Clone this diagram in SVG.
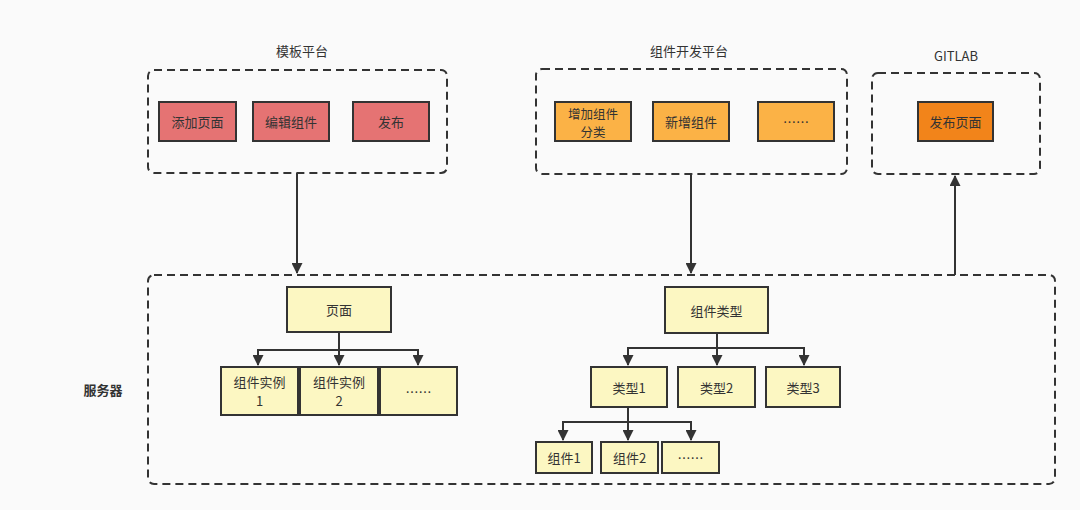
<svg xmlns="http://www.w3.org/2000/svg" width="1080" height="510" viewBox="0 0 1080 510">
<style>
text{font-family:"Noto Sans CJK SC","Liberation Sans",sans-serif;font-size:13px;fill:#333;text-anchor:middle;dominant-baseline:central}
.ctr{fill:none;stroke:#333;stroke-width:2;stroke-dasharray:8 5}
.red{fill:#e57373;stroke:#333;stroke-width:2}
.org{fill:#fbb246;stroke:#333;stroke-width:2}
.dorg{fill:#f2841a;stroke:#333;stroke-width:2}
.yel{fill:#fcf7c2;stroke:#333;stroke-width:2}
.ln{fill:none;stroke:#333;stroke-width:2}
</style>
<defs>
<marker id="ah" viewBox="0 0 10 10" refX="9" refY="5" markerWidth="6" markerHeight="5.5" orient="auto" markerUnits="strokeWidth">
<path d="M0,0 L10,5 L0,10 z" fill="#333"/>
</marker>
</defs>
<rect width="1080" height="510" fill="#fafafa"/>
<g id="tpl-platform">
<text x="302" y="50">模板平台</text>
<rect class="ctr" x="148" y="70" width="299" height="103" rx="6"/>
</g>
<g id="n-add-page"><rect class="red" x="159" y="102" width="77" height="39"/><text x="197.5" y="121.5">添加页面</text></g>
<g id="n-edit-comp"><rect class="red" x="253" y="102" width="76" height="39"/><text x="291" y="121.5">编辑组件</text></g>
<g id="n-publish"><rect class="red" x="353" y="102" width="76" height="39"/><text x="391" y="121.5">发布</text></g>
<g id="comp-platform">
<text x="689" y="50">组件开发平台</text>
<rect class="ctr" x="536" y="69" width="311" height="105" rx="6"/>
</g>
<g id="n-add-cat"><rect class="org" x="555" y="102" width="76" height="39"/><text x="593" y="113" style="font-size:12.5px">增加组件</text><text x="593" y="131" style="font-size:12.5px">分类</text></g>
<g id="n-new-comp"><rect class="org" x="653" y="102" width="76" height="39"/><text x="691" y="121.5">新增组件</text></g>
<g id="n-more1"><rect class="org" x="758" y="102" width="76" height="39"/><text x="796" y="121.5">……</text></g>
<g id="gitlab">
<text x="956" y="55">GITLAB</text>
<rect class="ctr" x="872" y="73" width="168" height="101" rx="6"/>
</g>
<g id="n-pub-page"><rect class="dorg" x="918" y="102" width="75" height="39"/><text x="955.5" y="121.5">发布页面</text></g>
<g id="server">
<rect class="ctr" x="148" y="275" width="907" height="209" rx="6"/>
<text x="103" y="389" style="font-weight:bold">服务器</text>
</g>
<g id="n-page"><rect class="yel" x="287" y="287" width="104" height="45"/><text x="339" y="309.5">页面</text></g>
<g id="n-inst1"><rect class="yel" x="221" y="367" width="77" height="48"/><text x="259.5" y="381">组件实例</text><text x="259.5" y="400">1</text></g>
<g id="n-inst2"><rect class="yel" x="300" y="367" width="78" height="48"/><text x="339" y="381">组件实例</text><text x="339" y="400">2</text></g>
<g id="n-inst3"><rect class="yel" x="380" y="367" width="77" height="48"/><text x="418.5" y="391">……</text></g>
<g id="n-ctype"><rect class="yel" x="665" y="287" width="103" height="46"/><text x="716.5" y="310">组件类型</text></g>
<g id="n-t1"><rect class="yel" x="591" y="367" width="76" height="40"/><text x="629" y="387">类型1</text></g>
<g id="n-t2"><rect class="yel" x="678" y="367" width="77" height="40"/><text x="716.5" y="387">类型2</text></g>
<g id="n-t3"><rect class="yel" x="766" y="367" width="74" height="40"/><text x="803" y="387">类型3</text></g>
<g id="n-c1"><rect class="yel" x="536" y="442" width="56" height="31"/><text x="564" y="457.5">组件1</text></g>
<g id="n-c2"><rect class="yel" x="601" y="442" width="57" height="31"/><text x="629.5" y="457.5">组件2</text></g>
<g id="n-c3"><rect class="yel" x="662" y="442" width="57" height="31"/><text x="690.5" y="457.5">……</text></g>
<g id="connectors">
<path class="ln" d="M297,173 V273" marker-end="url(#ah)"/>
<path class="ln" d="M691,174 V273" marker-end="url(#ah)"/>
<path class="ln" d="M955,275 V176" marker-end="url(#ah)"/>
<path class="ln" d="M339,332 V350 H258 V365" marker-end="url(#ah)"/>
<path class="ln" d="M339,350 V365" marker-end="url(#ah)"/>
<path class="ln" d="M339,350 H418 V365" marker-end="url(#ah)"/>
<path class="ln" d="M717,333 V348 H628 V365" marker-end="url(#ah)"/>
<path class="ln" d="M717,348 V365" marker-end="url(#ah)"/>
<path class="ln" d="M717,348 H804 V365" marker-end="url(#ah)"/>
<path class="ln" d="M628,407 V422 H563 V440" marker-end="url(#ah)"/>
<path class="ln" d="M628,422 V440" marker-end="url(#ah)"/>
<path class="ln" d="M628,422 H691 V440" marker-end="url(#ah)"/>
</g>
</svg>
